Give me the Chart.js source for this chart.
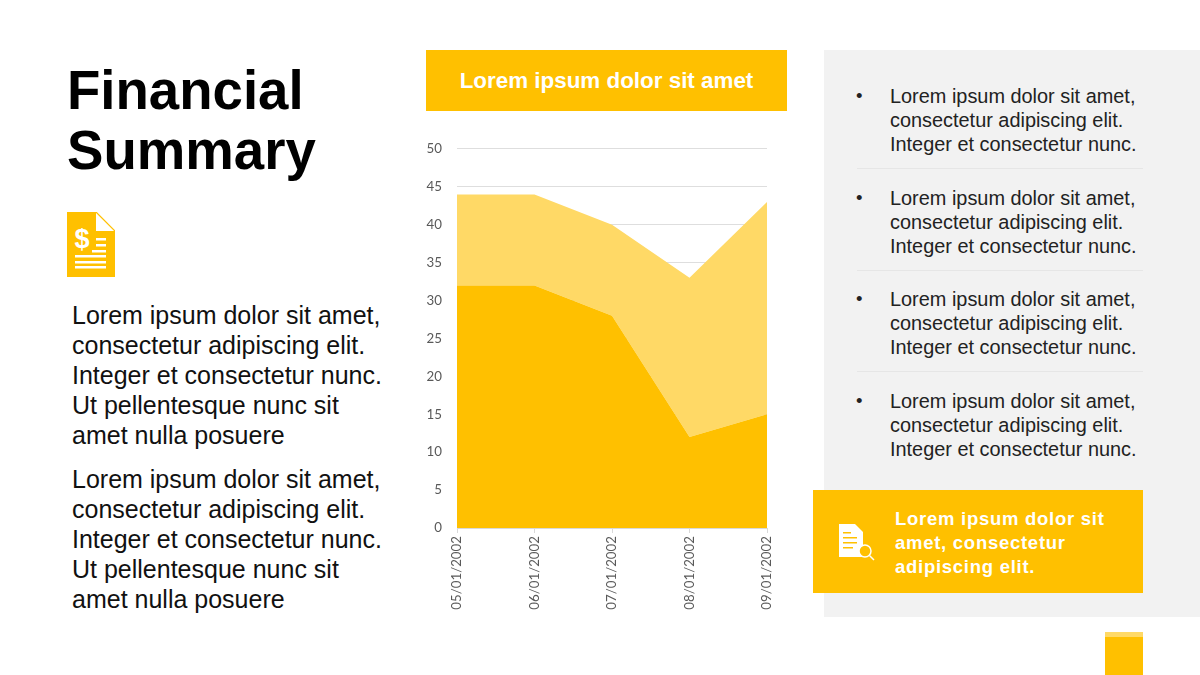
<!DOCTYPE html>
<html lang="en">
<head>
  <meta charset="UTF-8">
  <title>Financial Summary</title>
  <script src="https://cdn.jsdelivr.net/npm/chart.js"></script>
  <style>
    html, body { margin: 0; padding: 0; background: #fff; }
    body { width: 1200px; height: 675px; position: relative; overflow: hidden; font-family: "Liberation Sans", Arial, sans-serif; }
    .box { position: absolute; }
    .line { position: absolute; white-space: nowrap; }
    .title { left: 67px; font-size: 54.6px; font-weight: bold; color: #000; line-height: 60px; }
    .para { left: 72px; font-size: 25px; line-height: 30px; color: #111; }
    .bullet { left: 890px; font-size: 19.9px; line-height: 24px; color: #222; }
    .dot { left: 856px; font-size: 18.5px; line-height: 24px; color: #222; }
    .callout { left: 895px; font-size: 18.5px; line-height: 24px; font-weight: bold; color: #fff; letter-spacing: 0.73px; }
    #chartWrap { position: absolute; left: 420px; top: 126px; width: 370px; height: 494px; }
  </style>
</head>
<body>
  <div class="box" style="left:824px;top:50px;width:376px;height:567px;background:#f2f2f2"></div>
  <div class="box" style="left:426px;top:50px;width:361px;height:61px;background:#ffc000"></div>
  <div class="line" style="left:426px;width:361px;top:66px;text-align:center;font-size:22.4px;line-height:30px;font-weight:bold;color:#fff">Lorem ipsum dolor sit amet</div>

  <div class="line title" style="top:61px">Financial</div>
  <div class="line title" style="top:121px">Summary</div>

  <!-- document icon -->
  <svg class="box" style="left:67px;top:212px" width="48" height="65" viewBox="0 0 48 65">
    <path d="M0 0H29V19H48V65H0Z" fill="#ffc000"/>
    <path d="M29 0L48 19" stroke="#ffc000" stroke-width="1.2" fill="none"/>
    <text x="15" y="36" font-size="27" font-weight="bold" text-anchor="middle" fill="#fff" font-family="Liberation Sans">$</text>
    <g fill="#fff">
      <rect x="29" y="26" width="10" height="2.5"/>
      <rect x="29" y="32" width="10" height="2.5"/>
      <rect x="25" y="38" width="14" height="2.5"/>
      <rect x="8" y="43" width="31" height="2.5"/>
      <rect x="8" y="49" width="31" height="2.5"/>
      <rect x="8" y="54" width="31" height="2.5"/>
    </g>
  </svg>

  <div id="leftText"></div>
  <div id="chartWrap"><canvas id="areaChart" width="370" height="494"></canvas></div>
  <div id="rightText"></div>

  <div class="box" style="left:813px;top:490px;width:330px;height:103px;background:#ffc000"></div>
  <!-- report icon -->
  <svg class="box" style="left:838px;top:523px" width="38" height="38" viewBox="0 0 38 38">
    <path d="M1 1H17L25 9V34H1Z" fill="#fff"/>
    <g fill="#ffc000">
      <rect x="5" y="9" width="8" height="1.5"/>
      <rect x="5" y="14" width="14" height="1.5"/>
      <rect x="5" y="19" width="14" height="1.5"/>
      <rect x="5" y="24" width="10" height="1.5"/>
    </g>
    <circle cx="27" cy="28" r="6" fill="#ffc000" stroke="#fff" stroke-width="1.5"/>
    <path d="M31.5 32.5L36 37" stroke="#fff" stroke-width="1.5"/>
  </svg>
  <div class="line callout" style="top:507px">Lorem ipsum dolor sit</div>
  <div class="line callout" style="top:531px">amet, consectetur</div>
  <div class="line callout" style="top:555px">adipiscing elit.</div>

  <div class="box" style="left:1105px;top:632px;width:38px;height:43px;background:#ffc000"></div>
  <div class="box" style="left:1105px;top:632px;width:38px;height:5px;background:#ffd966"></div>

  <script>
    const dates = ["05/01/2002", "06/01/2002", "07/01/2002", "08/01/2002", "09/01/2002"];
    const lowerValues = [32, 32, 28, 12, 15];
    const upperValues = [12, 12, 12, 21, 28];
    const yTicks = [0, 5, 10, 15, 20, 25, 30, 35, 40, 45, 50];

    const paraLines = [
      "Lorem ipsum dolor sit amet,",
      "consectetur adipiscing elit.",
      "Integer et consectetur nunc.",
      "Ut pellentesque nunc sit",
      "amet nulla posuere"
    ];
    const bulletLines = [
      "Lorem ipsum dolor sit amet,",
      "consectetur adipiscing elit.",
      "Integer et consectetur nunc."
    ];

    // side text, one element per line so the breaks stay put
    function addLine(parentId, cls, text, top) {
      const el = document.createElement("div");
      el.className = "line " + cls;
      el.style.top = top + "px";
      el.textContent = text;
      document.getElementById(parentId).appendChild(el);
    }

    [300, 464].forEach(top => {
      paraLines.forEach((t, i) => addLine("leftText", "para", t, top + i * 30));
    });

    [84, 186, 287, 389].forEach((top, b) => {
      addLine("rightText", "dot", "•", top);
      bulletLines.forEach((t, i) => addLine("rightText", "bullet", t, top + i * 24));
      if (b < 3) {
        const sep = document.createElement("div");
        sep.className = "box";
        sep.style.cssText = "left:857px;width:286px;height:1px;background:#e6e6e6;top:" + (top + 84) + "px";
        document.getElementById("rightText").appendChild(sep);
      }
    });

    new Chart(document.getElementById("areaChart"), {
      type: "line",
      data: {
        labels: dates,
        datasets: [
          { label: "Lower", data: lowerValues, fill: "origin", backgroundColor: "#ffc000", borderWidth: 0, pointRadius: 0, tension: 0 },
          { label: "Upper", data: upperValues, fill: "-1", backgroundColor: "#ffd966", borderWidth: 0, pointRadius: 0, tension: 0 }
        ]
      },
      options: {
        responsive: false,
        animation: false,
        layout: { padding: { top: 0, right: 23, left: 0, bottom: 0 } },
        plugins: { legend: { display: false }, tooltip: { enabled: false } },
        scales: {
          x: {
            stacked: true,
            offset: false,
            afterFit: s => { s.height = 92; },
            grid: { drawOnChartArea: false, drawTicks: true, tickLength: 5, color: "#d9d9d9" },
            border: { color: "#d9d9d9" },
            ticks: { autoSkip: false, minRotation: 90, maxRotation: 90, padding: 3, color: "#595959", font: { family: "Lato", size: 13.3 } }
          },
          y: {
            stacked: true,
            min: 0,
            max: 50,
            afterFit: s => { s.width = 37; },
            afterBuildTicks: s => { s.ticks = yTicks.map(v => ({ value: v })); },
            grid: { color: "#dedede", drawTicks: false },
            border: { display: false },
            ticks: { padding: 15, color: "#595959", font: { family: "Lato", size: 13.3 } }
          }
        }
      }
    });
  </script>
</body>
</html>
